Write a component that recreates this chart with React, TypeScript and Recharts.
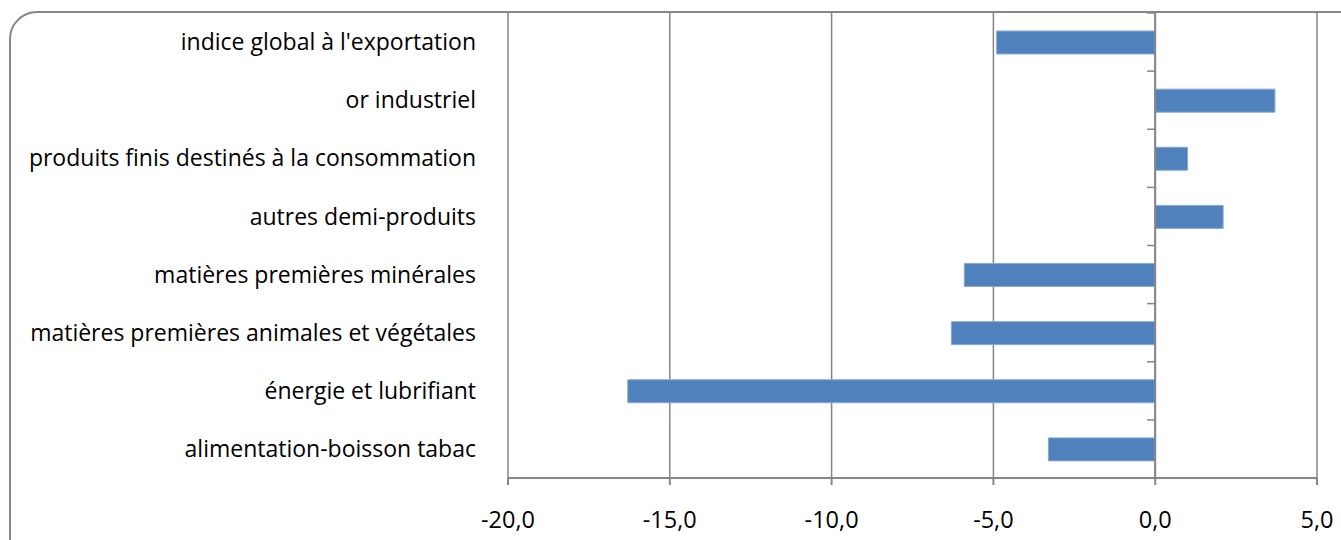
import React from "react"
import { Bar, BarChart, CartesianGrid, ReferenceLine, XAxis, YAxis } from "recharts"

const categories = [
  "indice global à l'exportation",
  "or industriel",
  "produits finis destinés à la consommation",
  "autres demi-produits",
  "matières premières minérales",
  "matières premières animales et végétales",
  "énergie et lubrifiant",
  "alimentation-boisson tabac",
]
const values = [-4.9, 3.7, 1.0, 2.1, -5.9, -6.3, -16.3, -3.3]
const xTicks = [-20, -15, -10, -5, 0, 5]

const data = categories.map((name, i) => ({ name, value: values[i] }))

const grey = "#868686"
const font = "'Open Sans', sans-serif"

// tick marks on the category axis (drawn on the zero line), at band edges
const bandEdges = [
  ...categories.map((c) => ({ cat: c, pos: "start" as const })),
  { cat: categories[categories.length - 1], pos: "end" as const },
]

export default function App() {
  return (
    <div style={{ position: "absolute", left: 0, top: 0, width: 1341, height: 540, overflow: "hidden", background: "#fff" }}>
      <div
        style={{
          position: "absolute",
          left: 9,
          top: 11,
          width: 1360,
          height: 580,
          border: `2px solid ${grey}`,
          borderRadius: 28,
        }}
      />
      <div style={{ position: "absolute", left: 0, top: 0 }}>
        <BarChart
          width={1341}
          height={540}
          data={data}
          layout="vertical"
          margin={{ top: 13, right: 24, bottom: 0, left: 0 }}
        >
          <CartesianGrid horizontal={false} stroke={grey} strokeWidth={1.5} />
          <XAxis
            type="number"
            domain={[-20, 5]}
            ticks={xTicks}
            allowDataOverflow
            height={62}
            tickFormatter={(v) => v.toFixed(1).replace(".", ",")}
            stroke={grey}
            strokeWidth={2}
            tickSize={7}
            tickMargin={26}
            tick={{ fill: "#000", fontSize: 23.5, fontFamily: font }}
          />
          <YAxis
            type="category"
            dataKey="name"
            width={508}
            axisLine={false}
            tickLine={false}
            tickSize={0}
            tickMargin={32}
            interval={0}
            tick={{ fill: "#000", fontSize: 23, fontFamily: font }}
          />
          <ReferenceLine x={0} stroke={grey} strokeWidth={2} />
          {bandEdges.map((e, i) => (
            <ReferenceLine
              key={i}
              position={e.pos}
              segment={[{ x: -0.25, y: e.cat }, { x: 0, y: e.cat }]}
              stroke={grey}
              strokeWidth={1.5}
              ifOverflow="visible"
            />
          ))}
          <Bar dataKey="value" barSize={23} fill="#4F81BD" stroke="#8AA9D6" strokeWidth={1} isAnimationActive={false} />
        </BarChart>
      </div>
    </div>
  )
}
